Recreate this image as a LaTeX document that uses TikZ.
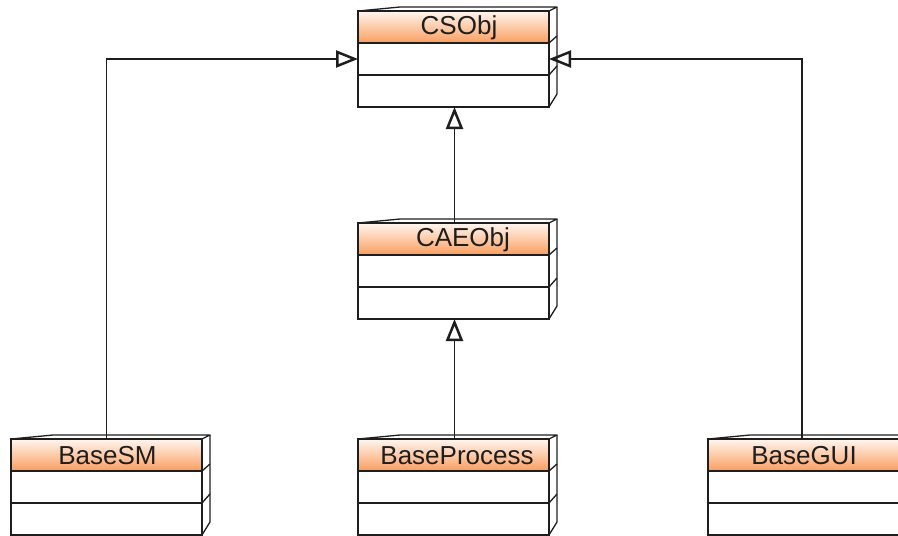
\documentclass[tikz,border=0pt]{standalone}
\usepackage{fontspec}
\setmainfont{Liberation Sans}
\usetikzlibrary{arrows.meta,calc}
\definecolor{hdtop}{RGB}{255,246,240}
\definecolor{hdbot}{RGB}{249,158,96}
\definecolor{edge}{RGB}{30,30,30}
\tikzset{
  classbox/.style={draw=edge, line width=1.3pt, minimum width=191pt, minimum height=96pt, inner sep=0pt, outer sep=0pt},
  classtext/.style={font=\fontsize{26}{29}\selectfont, text=edge, inner sep=0pt},
  detail/.style={draw=edge, line width=1.3pt, line join=round},
  gen/.style={draw=edge, line width=1.4pt, -{Triangle[open, length=22pt, width=17pt, line width=2.5pt]}},
}
\newcommand{\umlclass}[5]{%
  \shade[top color=hdtop, bottom color=hdbot] (#2,#3) rectangle ({#2+191},{#3+32});
  \node[classbox, anchor=north west] (#1) at (#2,#3) {};
  \draw[detail] (#2,{#3+32}) -- ({#2+191},{#3+32});
  \draw[detail] (#2,{#3+64}) -- ({#2+191},{#3+64});
  \draw[detail] (#2,#3) -- ({#2+42},{#3-4}) -- ({#2+199},{#3-4}) -- ({#2+191},#3);
  \draw[detail] ({#2+199},{#3-4}) -- ({#2+199},{#3+83}) -- ({#2+191},{#3+96});
  \draw[detail] ({#2+191},{#3+32}) -- ({#2+199},{#3+25});
  \draw[detail] ({#2+191},{#3+64}) -- ({#2+199},{#3+55});
  \node[classtext] (#1-t) at ({#2+95.5+#4},{#3+16.5}) {#5};
}
\begin{document}
\begin{tikzpicture}[x=1pt,y=-1pt]
\useasboundingbox (0,0) rectangle (898,536);
\umlclass{CSObj}{358}{11}{5.5}{CSObj}
\umlclass{CAEObj}{358}{223}{9.5}{CAEObj}
\umlclass{BaseSM}{11}{439}{1}{BaseSM}
\umlclass{BaseProcess}{358}{439}{3.5}{BaseProcess}
\umlclass{BaseGUI}{708}{439}{0.5}{BaseGUI}
\coordinate (CSObj-l) at ($(CSObj.north west)+(0,48)$);
\coordinate (CSObj-r) at ($(CSObj.north east)+(0,48)$);
\draw[gen] (BaseSM.north) |- (CSObj-l);
\draw[gen] ($(BaseGUI.north)+(-1.5,0)$) |- (CSObj-r);
\draw[gen] ($(CAEObj.north)+(1,0)$) -- ($(CSObj.south)+(1,0)$);
\draw[gen] ($(BaseProcess.north)+(1,0)$) -- ($(CAEObj.south)+(1,0)$);
\end{tikzpicture}
\end{document}
